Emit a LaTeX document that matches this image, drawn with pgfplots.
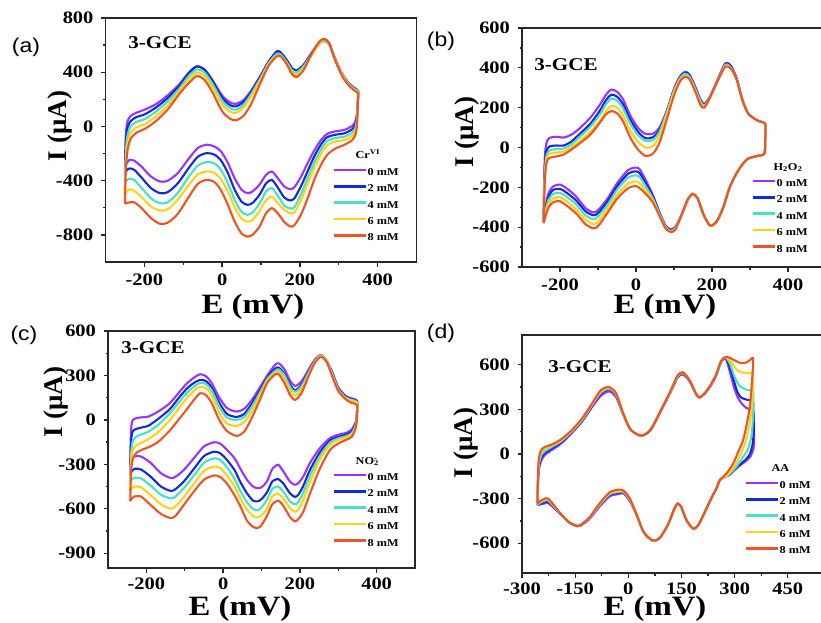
\documentclass[border=0pt]{standalone}
\usepackage{pgfplots}
\pgfplotsset{compat=1.18}
\usepackage{pgfplotstable}
\usepackage{fontspec}
\setmainfont{Liberation Serif}
\newfontfamily\serifS[FakeStretch=1.17]{Liberation Serif}
\newfontfamily\sansS[FakeStretch=1.15]{Liberation Sans}
\newcommand\tickfont{\serifS\bfseries\fontsize{17.5}{17.5}\selectfont}
\newcommand\legfont{\serifS\bfseries\fontsize{10.5}{10.5}\selectfont}
\newcommand\gcefont{\serifS\bfseries\fontsize{18}{18}\selectfont}
\newcommand\labfont{\serifS\bfseries\fontsize{28}{28}\selectfont}
\newcommand\ylabfont{\bfseries\fontsize{27}{27}\selectfont}
\newcommand\panfont{\sansS\fontsize{20}{20}\selectfont}
\definecolor{c0}{RGB}{153,51,255}
\definecolor{c2}{RGB}{20,40,220}
\definecolor{c4}{RGB}{70,225,200}
\definecolor{c6}{RGB}{255,210,20}
\definecolor{c8}{RGB}{238,85,35}

\pgfplotstableread{
x y0 y2 y4 y6 y8
-250 -320 -360 -430 -510 -570
-249 -160 -220 -290 -370 -430
-247 -30 -90 -160 -230 -290
-243 40 -5 -60 -120 -170
-235 78 40 0 -45 -90
-220 102 70 35 -5 -45
-200 123 88 52 15 -20
-170 165 140 110 75 40
-140 230 210 185 155 125
-110 312 300 280 260 240
-85 400 395 375 350 322
-65 443 443 420 398 372
-45 418 418 397 372 342
-25 342 337 316 290 252
0 228 212 190 162 112
20 178 158 136 110 58
35 167 148 123 100 45
55 195 180 160 138 78
75 265 255 240 222 168
100 381 375 363 350 330
120 480 480 470 460 450
140 546 553 535 520 515
150 541 548 532 522 520
165 492 495 480 470 465
180 430 430 415 400 385
192 413 413 400 380 364
210 455 455 445 430 418
230 541 540 530 525 535
250 620 620 608 612 625
262 645 645 628 640 645
275 615 615 605 612 615
290 504 504 500 500 492
310 381 381 380 375 365
330 307 305 300 295 290
345 275 272 268 262 255
350 262 260 256 250 242
349 190 180 170 160 150
347 100 80 60 40 10
343 40 15 -10 -35 -60
335 5 -20 -45 -70 -100
315 -25 -50 -75 -100 -135
290 -37 -62 -86 -112 -165
270 -55 -80 -110 -140 -210
255 -98 -130 -165 -200 -280
238 -172 -215 -260 -300 -385
220 -270 -330 -380 -420 -530
203 -370 -440 -500 -545 -650
186 -448 -530 -595 -632 -728
175 -462 -546 -605 -640 -738
160 -443 -525 -585 -615 -705
143 -381 -450 -510 -565 -640
128 -332 -394 -455 -517 -603
113 -357 -420 -480 -545 -640
96 -430 -505 -570 -625 -740
78 -480 -565 -635 -690 -800
65 -492 -578 -652 -701 -812
50 -467 -555 -630 -680 -790
32 -381 -465 -540 -595 -700
15 -270 -345 -420 -480 -580
-3 -184 -250 -320 -390 -470
-20 -148 -208 -272 -342 -410
-40 -135 -197 -263 -332 -394
-63 -160 -225 -290 -355 -425
-88 -246 -315 -380 -440 -530
-114 -344 -420 -490 -540 -645
-140 -401 -485 -560 -612 -710
-160 -406 -492 -566 -620 -718
-183 -369 -455 -530 -590 -676
-208 -295 -375 -450 -520 -600
-226 -253 -320 -395 -475 -560
-238 -246 -310 -385 -465 -560
-246 -275 -325 -400 -485 -566
-250 -320 -360 -430 -510 -570
}\tabA

\pgfplotstableread{
x y0 y2 y4 y6 y8
-243 -372 -372 -375 -378 -380
-242 -200 -230 -250 -270 -290
-240 -50 -100 -130 -150 -170
-236 20 -20 -45 -60 -80
-228 48 5 -15 -32 -52
-210 54 10 -8 -25 -45
-190 50 10 -5 -20 -35
-170 65 30 15 0 -10
-150 93 65 50 30 18
-120 150 120 105 80 65
-95 215 185 165 135 125
-80 262 235 215 180 165
-65 291 265 245 210 183
-50 280 255 235 200 172
-35 245 220 200 165 135
-15 160 140 120 85 50
5 100 80 62 30 -10
25 68 47 34 0 -42
45 70 52 38 8 -30
62 100 90 80 60 25
80 180 175 170 160 135
100 295 290 285 280 262
115 355 350 345 340 330
128 380 375 370 360 355
140 368 365 358 350 345
155 310 305 300 292 285
170 240 235 230 220 212
180 220 215 212 205 200
195 255 255 250 250 253
215 340 340 335 335 335
235 422 420 415 410 406
250 410 408 400 398 395
265 345 345 340 340 340
280 240 240 238 238 237
296 169 169 169 169 169
320 135 135 135 135 135
340 118 118 118 118 118
340 40 40 40 40 40
338 -30 -30 -30 -30 -30
320 -42 -42 -42 -42 -42
296 -55 -55 -55 -55 -55
280 -85 -85 -85 -85 -85
263 -135 -135 -135 -135 -135
246 -203 -203 -203 -203 -203
229 -304 -304 -304 -304 -304
212 -372 -372 -372 -372 -372
195 -392 -392 -392 -392 -392
178 -338 -338 -338 -338 -338
162 -254 -254 -254 -254 -254
149 -233 -233 -233 -233 -233
136 -262 -262 -262 -262 -262
120 -338 -338 -338 -338 -338
103 -400 -403 -406 -410 -414
90 -410 -414 -418 -420 -423
77 -390 -393 -397 -400 -404
61 -321 -325 -330 -335 -340
44 -237 -245 -255 -265 -275
27 -169 -185 -200 -220 -235
10 -110 -130 -150 -180 -205
0 -101 -120 -140 -170 -194
-20 -112 -130 -150 -180 -203
-49 -177 -193 -210 -235 -255
-74 -254 -268 -285 -305 -325
-99 -313 -328 -345 -370 -393
-112 -326 -340 -360 -385 -406
-133 -304 -320 -340 -362 -385
-158 -245 -265 -285 -310 -330
-184 -203 -225 -245 -268 -290
-200 -186 -208 -228 -250 -270
-217 -194 -212 -232 -254 -274
-230 -228 -245 -262 -282 -300
-239 -304 -315 -325 -340 -350
-243 -372 -372 -375 -378 -380
}\tabB

\pgfplotstableread{
x y0 y2 y4 y6 y8
-242 -300 -370 -420 -480 -550
-241 -150 -230 -300 -370 -440
-239 -40 -120 -200 -260 -320
-235 0 -75 -140 -200 -260
-225 12 -60 -110 -170 -220
-210 18 -50 -95 -150 -200
-195 22 -40 -80 -130 -185
-170 55 5 -35 -85 -150
-140 110 70 40 -5 -75
-115 185 150 120 80 5
-95 245 210 180 145 70
-76 285 250 225 195 135
-60 308 270 250 225 180
-45 295 262 242 215 168
-30 250 220 200 170 115
-10 150 115 90 50 0
10 80 40 15 -25 -75
35 56 20 0 -40 -108
55 75 40 20 -15 -80
75 135 110 90 60 15
95 215 195 180 160 130
115 300 285 275 265 250
135 371 345 330 315 305
145 382 352 340 322 308
160 340 310 300 280 247
175 262 235 220 195 165
188 229 200 190 165 135
205 262 240 230 210 185
225 350 335 330 320 310
240 410 400 400 395 390
255 438 432 435 430 425
270 400 395 400 395 390
285 320 310 305 300 290
300 220 210 205 200 195
320 160 155 150 145 138
335 145 140 135 130 115
349 130 125 120 115 100
349 60 60 50 40 30
346 -10 -20 -30 -40 -50
335 -65 -80 -90 -100 -115
320 -88 -100 -110 -120 -135
300 -100 -115 -125 -135 -160
278 -124 -140 -155 -170 -205
252 -191 -220 -245 -270 -330
226 -292 -340 -380 -420 -500
209 -382 -445 -490 -540 -620
196 -427 -505 -555 -605 -670
187 -438 -520 -570 -620 -685
174 -416 -495 -550 -595 -655
157 -348 -430 -485 -530 -580
144 -303 -400 -450 -500 -545
135 -315 -405 -455 -505 -555
127 -337 -420 -470 -520 -575
114 -416 -490 -540 -600 -650
100 -455 -535 -590 -645 -710
90 -461 -550 -610 -660 -730
78 -450 -545 -600 -650 -722
62 -404 -495 -555 -605 -680
45 -330 -420 -480 -530 -584
30 -260 -340 -400 -450 -510
10 -202 -270 -320 -375 -430
-8 -160 -225 -270 -325 -385
-24 -151 -215 -260 -315 -375
-50 -180 -245 -290 -345 -404
-76 -258 -330 -375 -430 -483
-102 -337 -415 -460 -520 -573
-123 -382 -465 -515 -580 -645
-136 -393 -480 -530 -600 -663
-162 -360 -450 -505 -570 -635
-188 -292 -385 -445 -510 -577
-214 -247 -335 -395 -455 -517
-231 -247 -330 -390 -450 -517
-238 -270 -345 -400 -460 -530
-242 -300 -370 -420 -480 -550
}\tabC

\pgfplotstableread{
x0 y0 x2 y2 x4 y4 x6 y6 x8 y8
-256 -344 -256 -342 -256 -340 -256 -336 -256 -332
-255 -200 -255 -190 -255 -175 -255 -160 -255 -140
-252 -100 -252 -85 -252 -65 -252 -40 -252 -20
-245 -40 -245 -22 -245 -5 -245 15 -245 30
-235 -5 -235 8 -235 20 -235 35 -235 48
-216 27 -216 38 -216 48 -216 58 -216 64
-190 70 -190 78 -190 85 -190 92 -190 98
-160 140 -160 145 -160 150 -160 155 -160 160
-130 220 -130 225 -130 230 -130 235 -130 240
-101 320 -101 330 -101 335 -101 340 -101 345
-78 390 -78 405 -78 412 -78 420 -78 428
-55 421 -55 435 -55 440 -55 445 -55 450
-35 385 -35 395 -35 400 -35 405 -35 410
-15 268 -15 270 -15 272 -15 275 -15 277
5 168 5 168 5 168 5 168 5 168
25 132 25 132 25 132 25 132 25 132
40 124 40 124 40 124 40 124 40 124
63 162 63 162 63 164 63 165 63 165
91 286 91 286 91 288 91 290 91 290
120 421 120 421 120 424 120 428 120 430
139 515 139 518 139 520 139 525 139 528
154 535 154 540 154 545 154 548 154 550
173 488 173 490 173 492 173 495 173 495
192 398 192 400 192 402 192 402 192 402
202 380 202 380 202 380 202 382 202 382
221 421 221 422 221 425 221 425 221 425
245 511 245 512 245 515 245 518 245 520
262 620 262 622 262 625 262 626 262 628
275 640 275 645 275 648 275 650 275 652
287 548 287 580 287 605 287 628 287 645
298 450 298 490 298 530 298 590 298 632
308 385 308 415 308 478 308 560 308 620
318 345 318 380 318 450 318 550 318 611
333 310 333 366 333 433 333 546 333 615
345 300 345 360 345 428 345 544 345 635
352 292 352 355 352 425 352 543 352 645
354 230 353 270 352 330 351 420 351 560
355 120 354 170 351 220 348 310 347 430
353 35 351 70 347 115 342 200 343 319
345 -15 342 -5 337 30 332 90 334 200
333 -45 328 -45 322 -25 318 5 324 94
320 -68 312 -75 305 -85 302 -72 310 15
305 -97 296 -108 290 -122 288 -120 296 -63
285 -140 282 -142 280 -145 278 -145 277 -130
258 -175 258 -175 258 -175 258 -175 258 -175
250 -225 250 -225 250 -225 250 -225 250 -225
236 -288 236 -288 236 -288 236 -288 236 -288
216 -389 216 -389 216 -389 216 -389 216 -389
197 -479 197 -479 197 -479 197 -479 197 -479
183 -502 183 -502 183 -502 183 -502 183 -502
164 -445 164 -445 164 -445 164 -445 164 -445
149 -355 149 -355 149 -355 149 -355 149 -355
139 -333 139 -333 139 -333 139 -333 139 -333
130 -367 130 -367 130 -367 130 -367 130 -367
111 -479 111 -479 111 -479 111 -479 111 -479
87 -569 87 -569 87 -569 87 -569 87 -569
67 -580 67 -580 67 -580 67 -580 67 -580
43 -524 43 -524 43 -524 43 -524 43 -524
24 -412 24 -412 24 -412 24 -412 24 -412
5 -318 5 -314 5 -310 5 -306 5 -302
-14 -265 -14 -258 -14 -254 -14 -250 -14 -245
-29 -270 -29 -262 -29 -256 -29 -250 -29 -240
-53 -285 -53 -275 -53 -270 -53 -264 -53 -258
-82 -355 -82 -347 -82 -344 -82 -340 -82 -335
-111 -440 -111 -435 -111 -434 -111 -432 -111 -430
-135 -482 -135 -480 -135 -479 -135 -478 -135 -477
-144 -486 -144 -485 -144 -484 -144 -484 -144 -484
-168 -458 -168 -458 -168 -457 -168 -457 -168 -457
-197 -392 -197 -390 -197 -389 -197 -386 -197 -384
-226 -330 -226 -320 -226 -312 -226 -305 -226 -299
-240 -335 -240 -327 -240 -318 -240 -310 -240 -305
-250 -340 -250 -335 -250 -330 -250 -325 -250 -320
-256 -344 -256 -342 -256 -340 -256 -336 -256 -332
}\tabD

\pgfplotsset{
  cvaxis/.style={
    scale only axis,
    axis line style={line width=1.5pt, black!85},
    tick align=outside, tick pos=left,
    major tick length=4.5pt, minor tick length=2.5pt,
    every tick/.style={black!85, line width=1.3pt},
    minor x tick num=1, minor y tick num=1,
    ticklabel style={font=\tickfont},
    xticklabel style={yshift=-4pt},
    yticklabel style={xshift=-4pt},
    legend style={draw=none, fill=none, inner sep=0pt, outer sep=0pt, font=\legfont,
      row sep=8.4pt, anchor=north west,
      nodes={inner sep=0pt, text height=7pt, text depth=1pt},
      /tikz/every even column/.append style={column sep=1.5pt}},
    legend cell align=left,
    legend image code/.code={\draw[##1,line width=2.6pt] (0pt,2.5pt) -- (32pt,2.5pt);},
  },
  cv/.style={line width=2.1pt, smooth, tension=0.45, mark=none},
}

\begin{document}
\begin{tikzpicture}
\path[use as bounding box] (0pt,0pt) rectangle (821pt,-623pt);
\clip (0pt,0pt) rectangle (821pt,-623pt);

% ---------- (a)
\begin{axis}[cvaxis, at={(105.5pt,-262pt)}, anchor=south west, width=311pt, height=244pt,
  xmin=-300, xmax=500, ymin=-1000, ymax=800,
  xtick={-200,0,200,400}, xticklabels={-200,0,200,400},
  ytick={-800,-400,0,400,800}, yticklabels={-800,-400,0,400,800},
  legend style={at={(axis description cs:0.7315,0.451)}},
  legend entries={\hspace*{-12pt}Cr\textsuperscript{VI},0 mM,2 mM,4 mM,6 mM,8 mM}]
\addlegendimage{empty legend}
\addplot[cv,c0] table[x=x,y=y0]{\tabA};
\addplot[cv,c2] table[x=x,y=y2]{\tabA};
\addplot[cv,c4] table[x=x,y=y4]{\tabA};
\addplot[cv,c6] table[x=x,y=y6]{\tabA};
\addplot[cv,c8] table[x=x,y=y8]{\tabA};
\end{axis}

% ---------- (b)
\begin{axis}[cvaxis, at={(522pt,-267pt)}, anchor=south west, width=304pt, height=239pt,
  xmin=-300, xmax=500, ymin=-600, ymax=600,
  xtick={-200,0,200,400}, xticklabels={-200,0,200,400},
  ytick={-600,-400,-200,0,200,400,600}, yticklabels={-600,-400,-200,0,200,400,600},
  legend style={at={(axis description cs:0.7566,0.435)}},
  legend image code/.code={\draw[#1,line width=2.6pt] (0pt,2.5pt) -- (22pt,2.5pt);},
  legend entries={\hspace*{-3pt}H\textsubscript{2}O\textsubscript{2},0 mM,2 mM,4 mM,6 mM,8 mM}]
\addlegendimage{empty legend}
\addplot[cv,c0] table[x=x,y=y0]{\tabB};
\addplot[cv,c2] table[x=x,y=y2]{\tabB};
\addplot[cv,c4] table[x=x,y=y4]{\tabB};
\addplot[cv,c6] table[x=x,y=y6]{\tabB};
\addplot[cv,c8] table[x=x,y=y8]{\tabB};
\end{axis}

% ---------- (c)
\begin{axis}[cvaxis, at={(108pt,-568pt)}, anchor=south west, width=307pt, height=237pt,
  xmin=-300, xmax=500, ymin=-1000, ymax=600,
  xtick={-200,0,200,400}, xticklabels={-200,0,200,400},
  xticklabel style={yshift=2pt},
  ytick={-900,-600,-300,0,300,600}, yticklabels={-900,-600,-300,0,300,600},
  legend style={at={(axis description cs:0.733,0.468)}},
  legend entries={\hspace*{-12pt}NO\rlap{\textsubscript{2}}\textsuperscript{-},0 mM,2 mM,4 mM,6 mM,8 mM}]
\addlegendimage{empty legend}
\addplot[cv,c0] table[x=x,y=y0]{\tabC};
\addplot[cv,c2] table[x=x,y=y2]{\tabC};
\addplot[cv,c4] table[x=x,y=y4]{\tabC};
\addplot[cv,c6] table[x=x,y=y6]{\tabC};
\addplot[cv,c8] table[x=x,y=y8]{\tabC};
\end{axis}

% ---------- (d)
\begin{axis}[cvaxis, at={(522pt,-573pt)}, anchor=south west, width=319pt, height=238pt,
  xmin=-300, xmax=600, ymin=-800, ymax=800,
  xtick={-300,-150,0,150,300,450}, xticklabels={-300,-150,0,150,300,450},
  xticklabel style={yshift=2pt},
  ytick={-600,-300,0,300,600}, yticklabels={-600,-300,0,300,600},
  legend style={at={(axis description cs:0.699,0.454)}},
  legend entries={\hspace*{-8pt}AA,0 mM,2 mM,4 mM,6 mM,8 mM}]
\addlegendimage{empty legend}
\addplot[cv,c0] table[x=x0,y=y0]{\tabD};
\addplot[cv,c2] table[x=x2,y=y2]{\tabD};
\addplot[cv,c4] table[x=x4,y=y4]{\tabD};
\addplot[cv,c6] table[x=x6,y=y6]{\tabD};
\addplot[cv,c8] table[x=x8,y=y8]{\tabD};
\end{axis}

% ---------- texts
\node[font=\gcefont] at (160pt,-43pt) {3-GCE};
\node[font=\gcefont] at (566pt,-65pt) {3-GCE};
\node[font=\gcefont] at (153pt,-348pt) {3-GCE};
\node[font=\gcefont] at (580pt,-367pt) {3-GCE};

\node[font=\panfont] at (26pt,-47pt) {(a)};
\node[font=\panfont] at (441pt,-41pt) {(b)};
\node[font=\panfont] at (24pt,-335pt) {(c)};
\node[font=\panfont] at (441pt,-333pt) {(d)};

\node[font=\labfont, anchor=base] at (253pt,-313pt) {E (mV)};
\node[font=\labfont, anchor=base] at (665pt,-313pt) {E (mV)};
\node[font=\labfont, anchor=base] at (240pt,-615pt) {E (mV)};
\node[font=\labfont, anchor=base] at (655pt,-615pt) {E (mV)};

\node[font=\ylabfont, rotate=90] at (60pt,-126pt) {I (μA)};
\node[font=\ylabfont, rotate=90] at (467pt,-132pt) {I (μA)};
\node[font=\ylabfont, rotate=90] at (56pt,-402pt) {I (μA)};
\node[font=\ylabfont, rotate=90] at (466pt,-443pt) {I (μA)};
\end{tikzpicture}
\end{document}
